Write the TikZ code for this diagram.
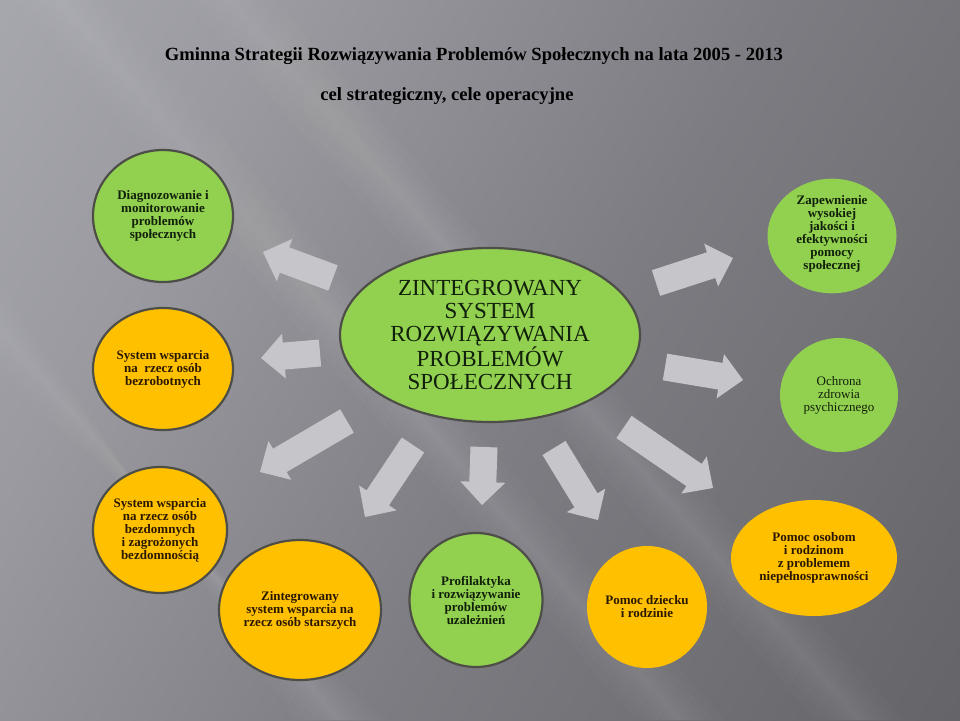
\documentclass[tikz,border=0pt]{standalone}
\usepackage{fontspec}
\setmainfont{Liberation Serif}
\usetikzlibrary{shapes.geometric,calc}
\definecolor{cgreen}{HTML}{92D050}
\definecolor{corange}{HTML}{FFC000}
\definecolor{arrowgray}{HTML}{C6C6CA}
\definecolor{rimgray}{HTML}{4E4E48}
\definecolor{gtext}{HTML}{10200A}
\definecolor{otext}{HTML}{2A1800}
\definecolor{bgA}{HTML}{B4B4BC}
\definecolor{bgB}{HTML}{9A9AA0}
\definecolor{bgC}{HTML}{7C7C82}
\definecolor{bgD}{HTML}{68686C}
\definecolor{bgE}{HTML}{5A5A5E}
\pgfdeclarehorizontalshading{bgshade}{100bp}{color(0bp)=(bgA); color(30bp)=(bgB); color(55bp)=(bgC); color(80bp)=(bgD); color(100bp)=(bgE)}
\newcommand{\blockarrow}[2]{%
  \coordinate (#2-base) at ($(#2)!23pt!(#1)$);
  \fill[arrowgray] ($(#1)!13.5pt!90:(#2)$) -- ($(#2-base)!13.5pt!-90:(#1)$)
    -- ($(#2-base)!22.5pt!-90:(#1)$) -- (#2) -- ($(#2-base)!22.5pt!90:(#1)$)
    -- ($(#2-base)!13.5pt!90:(#1)$) -- ($(#1)!13.5pt!-90:(#2)$) -- cycle;}
\tikzset{
  circ/.style={ellipse, inner sep=0pt, align=center, font=\bfseries\fontsize{13}{13}\selectfont},
  gcirc/.style={circ, fill=cgreen, text=gtext},
  ocirc/.style={circ, fill=corange, text=otext},
  rim/.style={draw=rimgray, line width=2.2pt},
  titletext/.style={font=\bfseries\fontsize{18.6}{22}\selectfont, text=black, inner sep=0pt},
  streak/.style={fill=white, opacity=0.018}
}
\begin{document}
\begin{tikzpicture}[x=1pt,y=-1pt]
\useasboundingbox (0,0) rectangle (960,720);
\shade[shading=bgshade, shading angle=-30] (0,0) rectangle (960,720);
% soft diagonal light streaks of the background
\foreach \w in {4,10,17,25,34,44} {
  \fill[streak] (230-\w,0) -- (230+\w,0) -- (860+\w,720) -- (860-\w,720) -- cycle;
  \fill[streak] (0,330-\w) -- (0,330+\w) -- (340+\w,720) -- (340-\w,720) -- cycle;
  \fill[streak] (60-\w,0) -- (60+\w,0) -- (680+\w,720) -- (680-\w,720) -- cycle;
}

\node[titletext] (title) at (474,56) {Gminna Strategii Rozwiązywania Problemów Społecznych na lata 2005 - 2013};
\node[titletext] (subtitle) at (447,96) {cel strategiczny, cele operacyjne};

% arrows
\coordinate (tA) at (333,278); \coordinate (hA) at (263,252);
\coordinate (tB) at (320,353); \coordinate (hB) at (261,358);
\coordinate (tC) at (347,421); \coordinate (hC) at (260,472);
\coordinate (tD) at (413,445); \coordinate (hD) at (365,517);
\coordinate (tE) at (484,447); \coordinate (hE) at (482,505);
\coordinate (tF) at (554,448); \coordinate (hF) at (598,520);
\coordinate (tG) at (624,427); \coordinate (hG) at (713,488);
\coordinate (tH) at (656,283); \coordinate (hH) at (733,258);
\coordinate (tI) at (665,367); \coordinate (hI) at (743,380);
\blockarrow{tA}{hA}
\blockarrow{tB}{hB}
\blockarrow{tC}{hC}
\blockarrow{tD}{hD}
\blockarrow{tE}{hE}
\blockarrow{tF}{hF}
\blockarrow{tG}{hG}
\blockarrow{tH}{hH}
\blockarrow{tI}{hI}

% central
\node[gcirc, rim, minimum width=300pt, minimum height=174pt,
      font=\fontsize{23}{23}\selectfont] (center) at (490,335)
  {ZINTEGROWANY\\SYSTEM\\ROZWIĄZYWANIA\\PROBLEMÓW\\SPOŁECZNYCH};

% outer nodes
\node[gcirc, rim, minimum width=140pt, minimum height=132pt] (diag) at (163,216)
  {Diagnozowanie i\\monitorowanie\\problemów\\społecznych};
\node[ocirc, rim, minimum width=140pt, minimum height=122pt] (bezrob) at (163,369)
  {System wsparcia\\na\ \ rzecz osób\\bezrobotnych};
\node[gcirc, minimum width=129pt, minimum height=106pt] (zapew) at (832,236)
  {Zapewnienie\\wysokiej\\jakości i\\efektywności\\pomocy\\społecznej\\[-6pt]\mbox{}};
\node[gcirc, minimum width=118pt, minimum height=114pt, font=\fontsize{13}{13}\selectfont] (ochrona) at (839,395)
  {Ochrona\\zdrowia\\psychicznego};
\node[ocirc, rim, minimum width=134pt, minimum height=126pt] (bezdom) at (160,530)
  {System wsparcia\\na rzecz osób\\bezdomnych\\i zagrożonych\\bezdomnością};
\node[ocirc, rim, minimum width=162pt, minimum height=140pt] (starsi) at (300,610)
  {Zintegrowany\\system wsparcia na\\rzecz osób starszych};
\node[gcirc, rim, minimum width=133pt, minimum height=134pt] (profil) at (476,600)
  {Profilaktyka\\i rozwiązywanie\\problemów\\uzależnień};
\node[ocirc, minimum width=120pt, minimum height=122pt] (dziecko) at (647,607)
  {Pomoc dziecku\\i rodzinie};
\node[ocirc, minimum width=166pt, minimum height=116pt] (niepel) at (814,558)
  {Pomoc osobom\\i rodzinom\\z problemem\\niepełnosprawności};
\end{tikzpicture}
\end{document}
